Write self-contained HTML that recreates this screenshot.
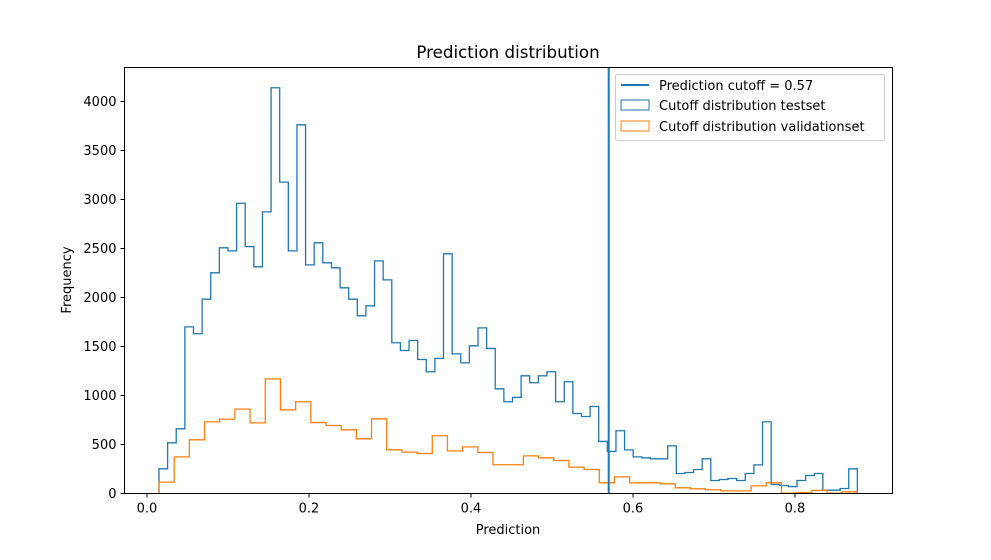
<!DOCTYPE html>
<html><head><meta charset="utf-8"><style>
body{margin:0;background:#fff;}
svg text{font-family:"DejaVu Sans","Liberation Sans",sans-serif;font-size:13px;fill:#000;}
</style></head><body>
<svg id="chart" width="991" height="555" xmlns="http://www.w3.org/2000/svg">
<rect width="991" height="555" fill="#fff"/>
<text x="508" y="58" text-anchor="middle" style="font-size:16.7px">Prediction distribution</text>
<g id="plot"></g>
<g id="axes"></g>
<text x="508" y="534" text-anchor="middle">Prediction</text>
<text transform="translate(71,280) rotate(-90)" text-anchor="middle">Frequency</text>
<g>
<rect x="615.5" y="74.5" width="269" height="66" rx="2" fill="#fff" fill-opacity="0.8" stroke="#ccc"/>
<line x1="621" y1="85" x2="649" y2="85" stroke="#1f77b4" stroke-width="2"/>
<text x="659" y="90">Prediction cutoff = 0.57</text>
<rect x="621" y="100" width="28" height="10" fill="none" stroke="#1f77b4"/>
<text x="659" y="110">Cutoff distribution testset</text>
<rect x="621" y="121" width="28" height="10" fill="none" stroke="#ff7f0e"/>
<text x="659" y="131">Cutoff distribution validationset</text>
</g>
</svg>
<script>
const testCounts=[252,517,660,1700,1630,1983,2252,2507,2476,2962,2520,2313,2874,4140,3177,2476,3762,2333,2558,2354,2303,2099,1983,1813,1915,2374,2180,1538,1459,1561,1367,1242,1378,2446,1425,1333,1507,1690,1480,1068,936,980,1201,1130,1201,1242,936,1140,816,786,888,531,429,640,445,374,364,354,354,486,204,214,245,354,133,143,153,133,204,292,731,92,82,71,133,184,204,34,34,51,252];
const valCounts=[116,374,548,731,759,861,721,1170,854,936,724,694,650,558,762,446,422,408,589,435,476,418,293,293,384,364,337,269,245,109,170,109,109,99,58,48,38,27,27,78,109,3,10,31,3,17];
const binRange=[0.0148,0.877];
const cutoff=[0.57];
const xTicks=[0,0.2,0.4,0.6,0.8];
const xTickLabels=["0.0","0.2","0.4","0.6","0.8"];
const yTicks=[0,500,1000,1500,2000,2500,3000,3500,4000];
const L=124.5,R=892.5,T=67.5,B=493.5;
const xs=v=>147+v*810;
const ys=v=>B-v*0.098;
const NS="http://www.w3.org/2000/svg";
const plot=document.getElementById('plot'),axes=document.getElementById('axes');
function stepPath(counts,color,name){
  const w=(binRange[1]-binRange[0])/counts.length;
  let d="M"+xs(binRange[0])+","+ys(0);
  counts.forEach((c,i)=>{const x0=xs(binRange[0]+i*w),x1=xs(binRange[0]+(i+1)*w);d+=" L"+x0+","+ys(c)+" L"+x1+","+ys(c);});
  d+=" L"+xs(binRange[1])+","+ys(0);
  const p=document.createElementNS(NS,'path');
  p.setAttribute('d',d);p.setAttribute('fill','none');p.setAttribute('stroke',color);p.setAttribute('stroke-width','1.3');
  
  
  plot.appendChild(p);
}
stepPath(testCounts,'#1f77b4','testset-histogram');
stepPath(valCounts,'#ff7f0e','validationset-histogram');
const cl=document.createElementNS(NS,'line');
cl.setAttribute('x1',xs(cutoff[0]));cl.setAttribute('x2',xs(cutoff[0]));cl.setAttribute('y1',T);cl.setAttribute('y2',B);
cl.setAttribute('stroke','#1f77b4');cl.setAttribute('stroke-width','2');


plot.appendChild(cl);
const frame=document.createElementNS(NS,'rect');
frame.setAttribute('x',L);frame.setAttribute('y',T);frame.setAttribute('width',R-L);frame.setAttribute('height',B-T);
frame.setAttribute('fill','none');frame.setAttribute('stroke','#000');frame.setAttribute('stroke-width','1');


axes.appendChild(frame);
xTicks.forEach((v,i)=>{
  const x=xs(v);
  const t=document.createElementNS(NS,'line');
  t.setAttribute('x1',x);t.setAttribute('x2',x);t.setAttribute('y1',B);t.setAttribute('y2',B+4);t.setAttribute('stroke','#000');
  
  
  axes.appendChild(t);
  const tx=document.createElementNS(NS,'text');
  tx.setAttribute('x',x);tx.setAttribute('y',B+19);tx.setAttribute('text-anchor','middle');tx.textContent=xTickLabels[i];
  
  
  axes.appendChild(tx);
});
yTicks.forEach(v=>{
  const y=ys(v);
  const t=document.createElementNS(NS,'line');
  t.setAttribute('x1',L-4);t.setAttribute('x2',L);t.setAttribute('y1',y);t.setAttribute('y2',y);t.setAttribute('stroke','#000');
  
  
  axes.appendChild(t);
  const tx=document.createElementNS(NS,'text');
  tx.setAttribute('x',L-8);tx.setAttribute('y',y+4.5);tx.setAttribute('text-anchor','end');tx.textContent=String(v);
  
  
  axes.appendChild(tx);
});
</script>
</body></html>
